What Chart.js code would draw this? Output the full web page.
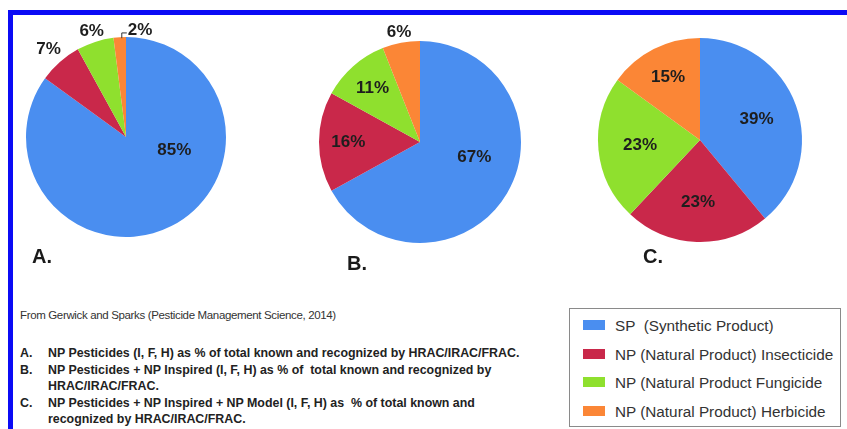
<!DOCTYPE html>
<html>
<head>
<meta charset="utf-8">
<script src="https://cdn.jsdelivr.net/npm/chart.js@4.4.1/dist/chart.umd.min.js"></script>
<style>
  html, body { margin: 0; padding: 0; background: #fff; }
  body { width: 847px; height: 429px; position: relative; overflow: hidden;
         font-family: "Liberation Sans", Arial, sans-serif; color: #222; }
  .frame { position: absolute; left: 8px; top: 10px; right: -10px; bottom: -10px;
           border-top: 5px solid #0b0bf5; border-left: 5px solid #0b0bf5; }
  .pie { position: absolute; width: 250px; height: 250px; }
  .letter { position: absolute; font-weight: bold; font-size: 20px; line-height: 20px; color: #1a1a1a; }
  .source { position: absolute; left: 20px; top: 309px; font-size: 11.5px; line-height: 12px;
            letter-spacing: -0.35px; color: #333; white-space: pre; }
  .notes { position: absolute; left: 20px; top: 345px; font-size: 12.4px; line-height: 16.5px; font-weight: bold; color: #222; }
  .notes .row { display: flex; white-space: pre; }
  .notes .tag { width: 28px; flex: none; }
  .legend { position: absolute; left: 569px; top: 308px; width: 272px; height: 119px;
            border: 1px solid #8a8a8a; box-sizing: border-box; }
  .legend .item { position: absolute; left: 0; height: 20px; white-space: pre; font-size: 15.3px; line-height: 20px; color: #333; }
  .legend .sw { position: absolute; left: 13px; top: 4px; width: 22px; height: 10px; }
  .legend .txt { position: absolute; left: 45px; top: 0; }
</style>
</head>
<body>
<div class="frame"></div>

<canvas id="pieA" class="pie"></canvas>
<canvas id="pieB" class="pie"></canvas>
<canvas id="pieC" class="pie"></canvas>

<div class="source">From Gerwick and Sparks (Pesticide Management Science, 2014)</div>
<div class="notes" id="notes"></div>
<div class="legend" id="legend"></div>

<script>
// categories shared by all three pies
const seriesNames = [
    'SP  (Synthetic Product)',
    'NP (Natural Product) Insecticide',
    'NP (Natural Product Fungicide',
    'NP (Natural Product) Herbicide',
];

// percent of total known pesticides
const sharesA = [85, 7, 6, 2];
const sharesB = [67, 16, 11, 6];
const sharesC = [39, 23, 23, 15];

const panelLetters = ['A.', 'B.', 'C.'];

const noteLines = [
    ['A.', 'NP Pesticides (I, F, H) as % of total known and recognized by HRAC/IRAC/FRAC.'],
    ['B.', 'NP Pesticides + NP Inspired (I, F, H) as % of  total known and recognized by'],
    ['',   'HRAC/IRAC/FRAC.'],
    ['C.', 'NP Pesticides + NP Inspired + NP Model (I, F, H) as  % of total known and'],
    ['',   'recognized by HRAC/IRAC/FRAC.'],
];

const sliceColors = ['#4a8ef0', '#c9284a', '#8fe02e', '#fb8636'];

// where each pie sits and how its percentage labels are placed
// lbl: [angle in degrees from 12 o'clock or null for mid-slice, fraction of radius]
const panels = [
    { id: 'pieA', data: sharesA, cx: 126, cy: 137, r: 100,
      letter: [32, 246],
      lbl: [[105, 0.50], [null, 1.17], [null, 1.11], [7.5, 1.08, 'leader']] },
    { id: 'pieB', data: sharesB, cx: 420, cy: 142, r: 101,
      letter: [347, 253],
      lbl: [[106, 0.56], [null, 0.71], [null, 0.71], [null, 1.11]] },
    { id: 'pieC', data: sharesC, cx: 700, cy: 140, r: 102,
      letter: [643, 246],
      lbl: [[null, 0.59], [null, 0.61], [null, 0.59], [null, 0.69]] },
];

const pctLabels = {
    id: 'pctLabels',
    afterDatasetsDraw(chart, args, opts) {
        const ctx = chart.ctx;
        const meta = chart.getDatasetMeta(0);
        const values = chart.data.datasets[0].data;
        ctx.save();
        ctx.font = 'bold 17px "Liberation Sans", Arial, sans-serif';
        ctx.fillStyle = '#1e1e1e';
        ctx.strokeStyle = '#333';
        ctx.lineWidth = 1;
        ctx.textAlign = 'center';
        ctx.textBaseline = 'middle';
        meta.data.forEach((arc, i) => {
            const p = arc.getProps(['x', 'y', 'startAngle', 'endAngle', 'outerRadius'], true);
            const place = opts.place[i];
            const mid = (p.startAngle + p.endAngle) / 2;
            const a = place[0] === null ? mid : place[0] * Math.PI / 180 - Math.PI / 2;
            const tx = p.x + Math.cos(a) * place[1] * p.outerRadius;
            const ty = p.y + Math.sin(a) * place[1] * p.outerRadius;
            const text = values[i] + '%';
            if (place[2] === 'leader') {
                // small elbow from the thin slice up to its label
                const ex = p.x + Math.cos(mid) * (p.outerRadius - 1);
                const ey = p.y + Math.sin(mid) * (p.outerRadius - 1);
                const w = ctx.measureText(text).width;
                ctx.beginPath();
                ctx.moveTo(ex + 2, ey);
                ctx.lineTo(ex + 2, ty + 3);
                ctx.lineTo(tx - w / 2 - 1, ty + 3);
                ctx.stroke();
            }
            ctx.fillText(text, tx, ty);
        });
        ctx.restore();
    }
};

panels.forEach((pn, k) => {
    const el = document.getElementById(pn.id);
    el.style.left = (pn.cx - 125) + 'px';
    el.style.top = (pn.cy - 125) + 'px';
    new Chart(el, {
        type: 'pie',
        data: {
            labels: seriesNames,
            datasets: [{
                data: pn.data,
                backgroundColor: sliceColors,
                borderWidth: 0,
                radius: pn.r,
            }]
        },
        options: {
            responsive: false,
            animation: false,
            events: [],
            plugins: {
                legend: { display: false },
                tooltip: { enabled: false },
                pctLabels: { place: pn.lbl },
            }
        },
        plugins: [pctLabels]
    });

    const lt = document.createElement('div');
    lt.className = 'letter';
    lt.textContent = panelLetters[k];
    lt.style.left = pn.letter[0] + 'px';
    lt.style.top = pn.letter[1] + 'px';
    document.body.appendChild(lt);
});

var notesEl = document.getElementById('notes');
noteLines.forEach(line => {
    notesEl.innerHTML += `<div class="row"><span class="tag">${line[0]}</span><span>${line[1]}</span></div>`;
});

var legendEl = document.getElementById('legend');
seriesNames.forEach((name, i) => {
    const top = 7 + i * 28.7;
    legendEl.innerHTML += `<div class="item" style="top:${top}px"><span class="sw" style="background:${sliceColors[i]}"></span><span class="txt">${name}</span></div>`;
});
</script>
</body>
</html>
